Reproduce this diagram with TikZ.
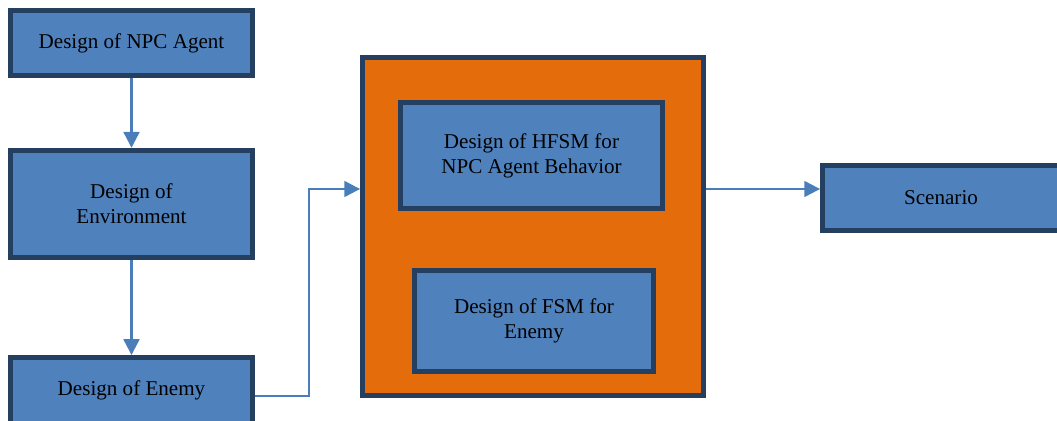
\documentclass[tikz,border=0pt]{standalone}
\usepackage{fontspec}
\setmainfont{Liberation Serif}
\usetikzlibrary{arrows.meta,positioning}
\definecolor{boxblue}{HTML}{4F81BD}
\definecolor{boxline}{HTML}{243F60}
\definecolor{boxorange}{HTML}{E46C0A}
\definecolor{arrowblue}{HTML}{4A7EBB}
\begin{document}
\begin{tikzpicture}[x=0.02cm, y=-0.02cm]
  \tikzset{
      mynode/.style={rectangle, draw=boxline, fill=boxblue, line width=2.8pt, inner sep=0pt, text centered, align=center, font=\fontsize{12}{14.2}\selectfont},
      mybig/.style={rectangle, draw=boxline, fill=boxorange, line width=2.8pt, inner sep=0pt},
      myarrow/.style={-{Triangle[length=9pt, width=9pt]}, draw=arrowblue, line width=1.3pt}
  }
  \useasboundingbox (0,0) rectangle (1057,421);
  \node[mynode, minimum width=4.84cm, minimum height=1.30cm] (npc) at (131.5,43) {Design of NPC Agent};
  \node[mynode, minimum width=4.84cm, minimum height=2.15cm] (env) at (131.5,204) {Design of\\Environment};
  \node[mynode, minimum width=4.84cm, minimum height=1.32cm] (enemy) at (131.5,390.5) {Design of Enemy};
  \node[mybig, minimum width=6.82cm, minimum height=6.76cm] (behavior) at (533,226.5) {};
  \node[mynode, minimum width=5.24cm, minimum height=2.12cm] (hfsm) at (531.5,155.5) {Design of HFSM for\\NPC Agent Behavior};
  \node[mynode, minimum width=4.78cm, minimum height=2.02cm] (fsm) at (534,321) {Design of FSM for\\Enemy};
  \node[mynode, minimum width=4.74cm, minimum height=1.30cm] (scenario) at (941,198) {Scenario};

  \coordinate (turn) at (309,396);
  \draw[myarrow] (npc.south) -- (env.north);
  \draw[myarrow] (env.south) -- (enemy.north);
  \draw[myarrow] (enemy.east |- turn) -- (turn) |- (behavior.west |- 0,189);
  \draw[myarrow] (behavior.east |- 0,189) -- (scenario.west |- 0,189);
\end{tikzpicture}
\end{document}
